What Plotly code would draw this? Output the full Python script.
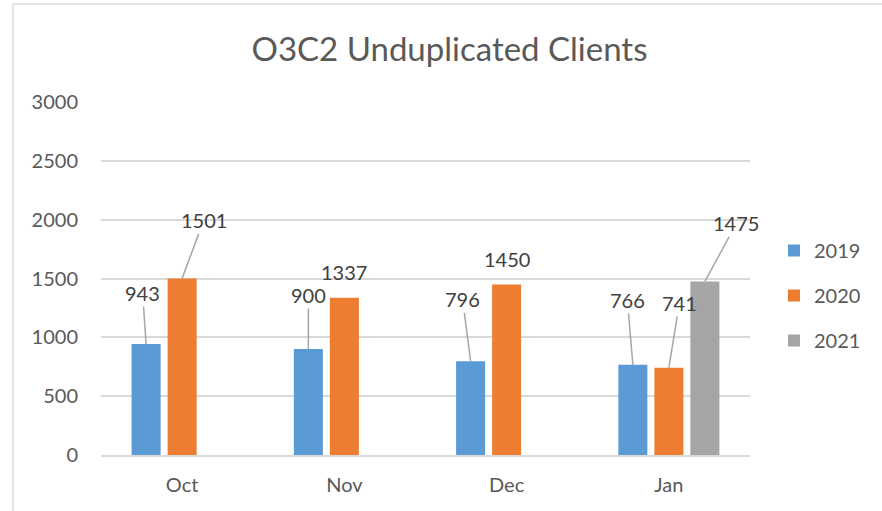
import plotly.graph_objects as go

# ---- data ----
months = ["Oct", "Nov", "Dec", "Jan"]
series_names = ["2019", "2020", "2021"]
values_2019 = [943, 900, 796, 766]
values_2020 = [1501, 1337, 1450, 741]
values_2021 = [None, None, None, 1475]
y_ticks = [0, 500, 1000, 1500, 2000, 2500, 3000]

# ---- style ----
colors = ["#5B9BD5", "#ED7D31", "#A5A5A5"]
FONT = "Lato"
FS = 20
W, H = 882, 511
ML, MR, MT, MB = 101, 132, 102, 56
BARGAP = 0.334
GROUPGAP = 0.194

# label offsets (pixels, relative to bar top) and whether a leader line is shown
label_style = {
    ("2019", 0): (-3.5, -51, True),
    ("2020", 0): (21.5, -58, True),
    ("2019", 1): (0, -54, True),
    ("2020", 1): (0, -26, False),
    ("2019", 2): (-8, -62, True),
    ("2020", 2): (0, -25, False),
    ("2019", 3): (-5.5, -65, True),
    ("2020", 3): (10.5, -65, True),
    ("2021", 3): (31.5, -58, True),
}

all_values = [values_2019, values_2020, values_2021]
xs = list(range(len(months)))

fig = go.Figure()
for i, (name, vals) in enumerate(zip(series_names, all_values)):
    fig.add_trace(go.Bar(
        x=xs, y=vals, name=name, marker_color=colors[i],
        marker_line_width=0, legendgroup=name,
    ))

slot = (1 - BARGAP) / len(series_names)
annotations = []
for i, (name, vals) in enumerate(zip(series_names, all_values)):
    off = (i - (len(series_names) - 1) / 2) * slot
    for j, v in enumerate(vals):
        if v is None:
            continue
        ax, ay, line = label_style[(name, j)]
        annotations.append(dict(
            x=xs[j] + off, y=v, xref="x", yref="y",
            text=str(v), showarrow=True, arrowhead=0, standoff=0,
            ax=ax, ay=ay, arrowwidth=1.5,
            arrowcolor="#A6A6A6" if line else "rgba(0,0,0,0)",
            font=dict(family=FONT, size=FS, color="#404040"),
        ))

pw = W - ML - MR
ph = H - MT - MB
def px_x(p):
    return (p - ML) / pw
def px_y(p):
    return (H - MB - p) / ph

shapes = [
    dict(type="line", xref="paper", yref="paper", x0=px_x(13), x1=px_x(13),
         y0=px_y(4), y1=px_y(H + 5), line=dict(color="#D9D9D9", width=1.5)),
    dict(type="line", xref="paper", yref="paper", x0=px_x(13), x1=px_x(W + 5),
         y0=px_y(4), y1=px_y(4), line=dict(color="#D9D9D9", width=1.5)),
]

fig.update_layout(
    width=W, height=H,
    margin=dict(l=ML, r=MR, t=MT, b=MB),
    paper_bgcolor="white", plot_bgcolor="white",
    barmode="group", bargap=BARGAP, bargroupgap=GROUPGAP,
    font=dict(family=FONT, size=FS, color="#595959"),
    title=dict(text="O3C2 Unduplicated Clients", xref="container", yref="container",
               x=449.5 / W, y=1 - 49 / H, xanchor="center", yanchor="middle",
               font=dict(family=FONT, size=33, color="#595959")),
    xaxis=dict(tickmode="array", tickvals=xs, ticktext=months, range=[-0.5, len(months) - 0.5],
               showgrid=False, zeroline=False, showline=True, linecolor="#D9D9D9", linewidth=1.5,
               ticks="", ticklabelstandoff=11, tickfont=dict(size=FS, color="#595959")),
    yaxis=dict(range=[0, 3000], tickvals=y_ticks, showgrid=True, gridcolor="#D9D9D9", gridwidth=1.5,
               zeroline=False, showline=False, ticks="", ticklabelstandoff=22,
               tickfont=dict(size=FS, color="#595959")),
    legend=dict(x=px_x(774), y=px_y(231), xanchor="left", yanchor="top",
                traceorder="grouped", tracegroupgap=16,
                font=dict(family=FONT, size=FS, color="#595959")),
    annotations=annotations,
    shapes=shapes,
)

fig.write_html("out.html", config={"displayModeBar": False},
               post_script="document.body.style.margin='0px';")
